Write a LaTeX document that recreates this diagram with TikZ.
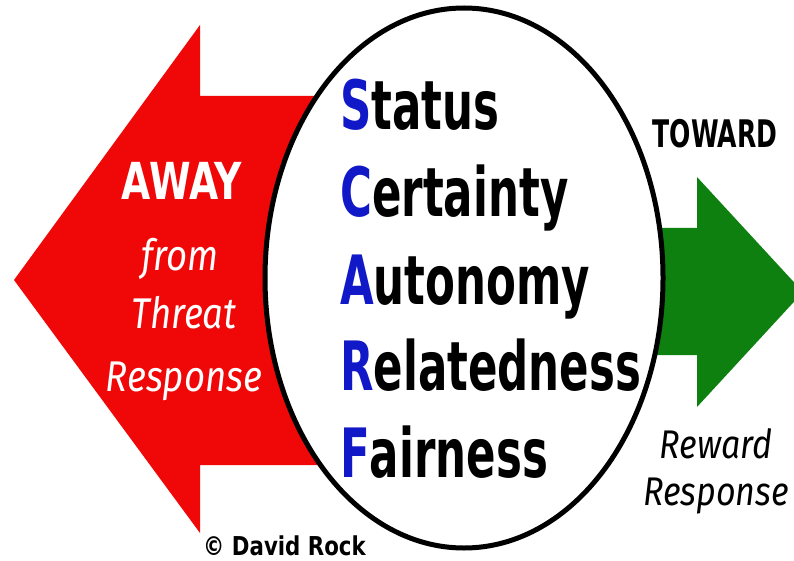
\documentclass[tikz,border=0pt]{standalone}
\usepackage{fontspec}
\usepackage{graphicx}
\usetikzlibrary{shapes.geometric}
\setmainfont{DejaVu Sans}
\newfontfamily\boldface{DejaVu Sans Bold}
\newfontfamily\italface{Fira Sans Italic}
\definecolor{awayred}{RGB}{240,8,8}
\definecolor{towardgreen}{RGB}{14,128,16}
\definecolor{scarfblue}{RGB}{16,24,200}
\newcommand\narrow[2]{\scalebox{#1}[1]{#2}}
\tikzset{
  arrowshape/.style={draw=none},
  ring/.style={draw=black, line width=5pt, fill=white},
  scarfword/.style={anchor=base west, inner sep=0pt, font=\boldface\fontsize{68}{68}\selectfont},
  awaytext/.style={anchor=base, inner sep=0pt, text=white},
  sidetext/.style={anchor=base, inner sep=0pt, text=black}
}
\begin{document}
\begin{tikzpicture}[x=1pt,y=-1pt]
\useasboundingbox (0,0) rectangle (794,561);
\clip (0,0) rectangle (794,561);
% red arrow pointing away (left)
\path[arrowshape, fill=awayred]
  (14,280) -- (200,25) -- (200,96) -- (360,96) -- (360,465)
  -- (200,465) -- (200,533) -- cycle;
% green arrow pointing toward (right)
\path[arrowshape, fill=towardgreen]
  (620,228) -- (697,228) -- (697,177) -- (803,292) -- (697,407)
  -- (697,355) -- (620,355) -- cycle;
% central ellipse
\node[ring, ellipse, minimum width=398pt, minimum height=540pt, inner sep=0pt] (core) at (464,278) {};
% SCARF domains
\node[scarfword] (status) at (340,130) {\narrow{0.64}{\textcolor{scarfblue}{S}tatus}};
\node[scarfword] (certainty) at (340,217) {\narrow{0.64}{\textcolor{scarfblue}{C}ertainty}};
\node[scarfword] (autonomy) at (340,304) {\narrow{0.64}{\textcolor{scarfblue}{A}utonomy}};
\node[scarfword] (relatedness) at (340,390) {\narrow{0.64}{\textcolor{scarfblue}{R}elatedness}};
\node[scarfword] (fairness) at (340,477) {\narrow{0.64}{\textcolor{scarfblue}{F}airness}};
% left labels
\node[awaytext, font=\boldface\fontsize{51}{51}\selectfont] (away) at (182,200) {\narrow{0.74}{AWAY}};
\node[awaytext, font=\italface\fontsize{43}{43}\selectfont] (from) at (180,270) {\narrow{0.85}{from}};
\node[awaytext, font=\italface\fontsize{43}{43}\selectfont] (threat) at (184,328) {\narrow{0.85}{Threat}};
\node[awaytext, font=\italface\fontsize{43}{43}\selectfont] (response) at (184,391) {\narrow{0.85}{Response}};
% right labels
\node[sidetext, font=\boldface\fontsize{38}{38}\selectfont] (toward) at (715,148) {\narrow{0.66}{TOWARD}};
\node[sidetext, font=\italface\fontsize{40}{40}\selectfont] (reward) at (716,458) {\narrow{0.85}{Reward}};
\node[sidetext, font=\italface\fontsize{40}{40}\selectfont] (rresponse) at (716,505) {\narrow{0.85}{Response}};
% credit line
\node[sidetext, anchor=base west, font=\boldface\fontsize{26}{26}\selectfont] (credit) at (203,555) {\narrow{0.82}{© David Rock}};
\end{tikzpicture}
\end{document}
